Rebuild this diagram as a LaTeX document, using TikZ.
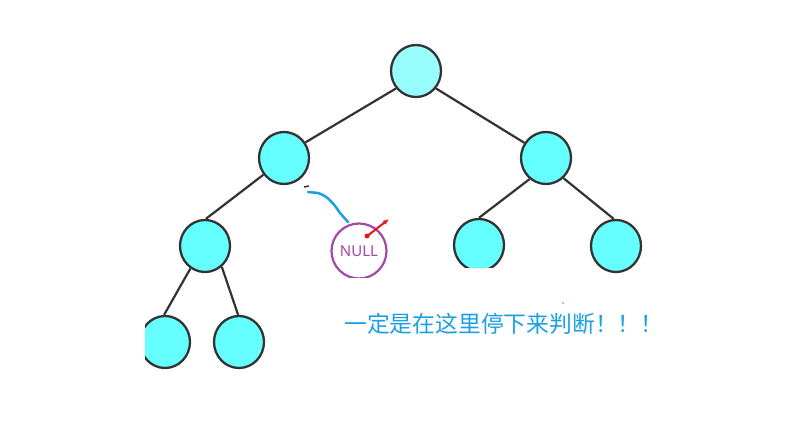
\documentclass[tikz,border=0pt]{standalone}
\usepackage{fontspec}
\newfontfamily\cjk{Noto Sans CJK SC}
\newfontfamily\nullfnt{Noto Sans}
\usetikzlibrary{arrows.meta}
\definecolor{cy}{HTML}{66FFFF}
\definecolor{cyl}{HTML}{99FCFC}
\definecolor{edg}{HTML}{333333}
\definecolor{pur}{HTML}{A349A4}
\definecolor{bl}{HTML}{1AA0E2}
\definecolor{rd}{HTML}{E8141C}
\tikzset{
  tn/.style={circle,draw=edg,line width=2.3pt,fill=cy,minimum width=50pt,inner sep=0pt,yscale=1.04},
  edge/.style={draw=edg,line width=2.2pt},
}
\begin{document}
\begin{tikzpicture}[x=1pt,y=-1pt]
\useasboundingbox (0,0) rectangle (797,425);
\fill[white] (0,0) rectangle (797,425);
\node[tn,fill=cyl] (r) at (416,71) {};
\node[tn] (a) at (284,158) {};
\node[tn] (b) at (546,158) {};
\node[tn] (c) at (205,246) {};
\node[tn] (d) at (479,245) {};
\node[tn] (e) at (616,246) {};
\node[tn] (f) at (165,342) {};
\node[tn] (g) at (239,342) {};
\begin{scope}[on background layer/.style={}]
\draw[edge] (r.220) -- (a.35);
\draw[edge] (r.320) -- (b.146);
\draw[edge] (a.218) -- (c.88);
\draw[edge] (b.231) -- (d.90);
\draw[edge] (b.312) -- (e.95);
\draw[edge] (c.236) -- (f.92);
\draw[edge] (c.310) -- (g.92);
\end{scope}
% NULL circle
\node[circle,draw=pur,line width=2.2pt,minimum width=55pt,inner sep=0pt,text=pur,font=\nullfnt\fontsize{15}{17}\selectfont] (n) at (359,251) {NULL};
% clipping masks
\fill[white] (0,300) rectangle (145,390);
\fill[white] (445,268) rectangle (515,295);
\fill[white] (325,278) rectangle (395,295);
% blue annotation curve
\coordinate (bs) at (308,192);
\coordinate (be) at (348,222);
\draw[bl,line width=2.5pt,line cap=round] (bs) -- (318,193) .. controls (328,196) and (334,204) .. (340,213) -- (be);
\draw[edg,line width=1.5pt] (304,187) -- (309,186);
% red arrow
\coordinate (rs) at (366,237);
\coordinate (re) at (389,219);
\draw[rd,line width=2pt,-{Latex[length=6pt,width=5pt]}] (rs) -- (re);
\fill[rd] (367,236) circle (2.5pt);
% text
\node[anchor=west,text=bl,font=\cjk\fontsize{22.8}{26}\selectfont,inner sep=0pt] (t) at (344,324) {一定是在这里停下来判断！！！};
\fill[bl] (563,303) circle (0.8pt);
\end{tikzpicture}
\end{document}
